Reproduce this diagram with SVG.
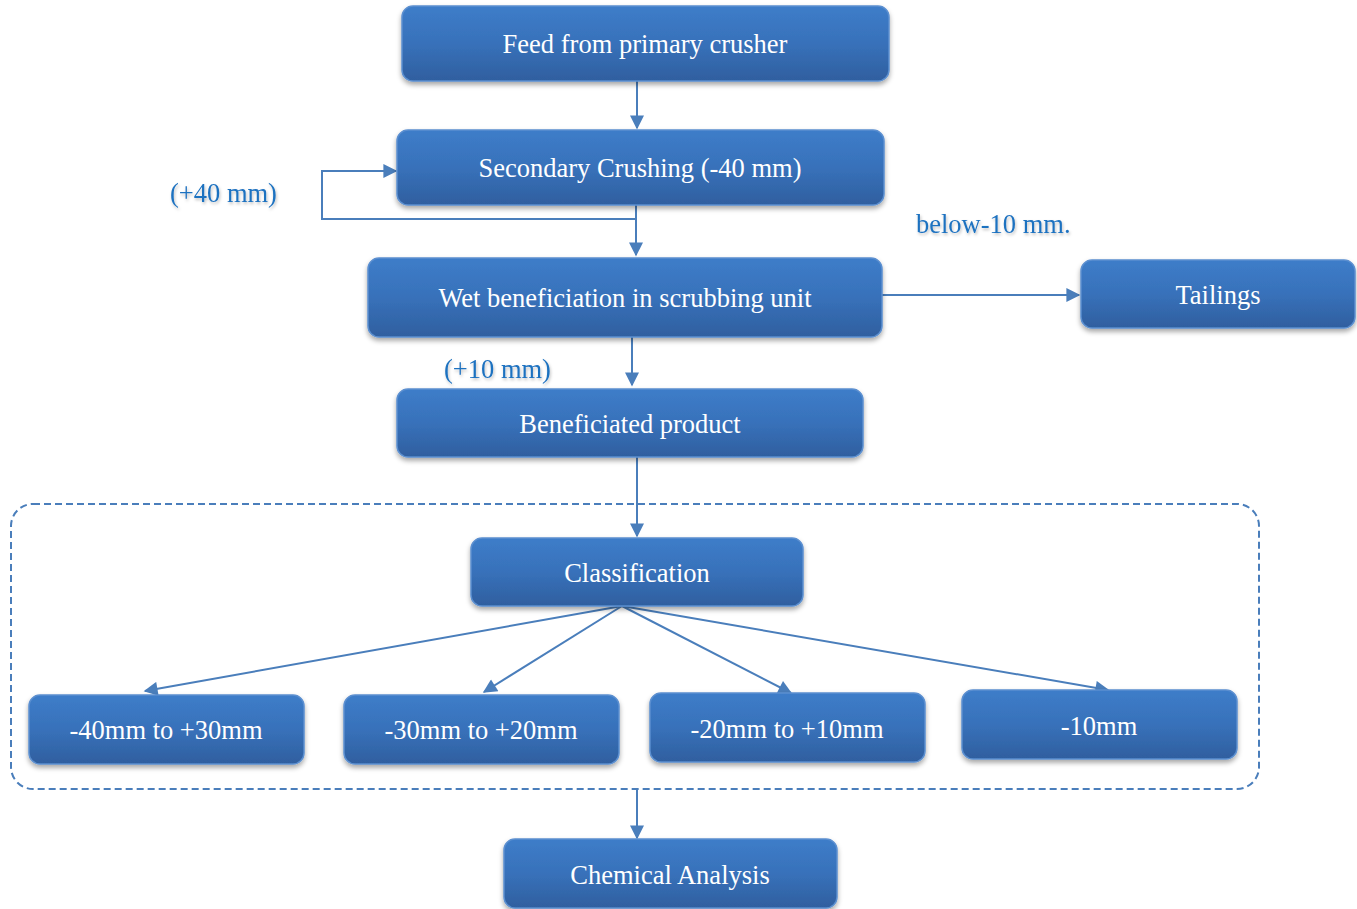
<svg xmlns="http://www.w3.org/2000/svg" width="1357" height="909" viewBox="0 0 1357 909">
<defs>
<linearGradient id="g" x1="0" y1="0" x2="0" y2="1">
<stop offset="0" stop-color="#3d7dc9"/>
<stop offset="0.5" stop-color="#3871ba"/>
<stop offset="1" stop-color="#2f5f9f"/>
</linearGradient>
<filter id="sh" x="-10%" y="-20%" width="120%" height="160%">
<feDropShadow dx="0" dy="3" stdDeviation="2.5" flood-color="#000" flood-opacity="0.35"/>
</filter>
<filter id="tsh" x="-10%" y="-30%" width="120%" height="160%">
<feDropShadow dx="1" dy="2" stdDeviation="1.5" flood-color="#000" flood-opacity="0.25"/>
</filter>
<marker id="ah" viewBox="0 0 10 10" refX="9" refY="5" markerWidth="8" markerHeight="7" orient="auto" markerUnits="strokeWidth">
<path d="M0,0 L10,5 L0,10 z" fill="#4a7ebb"/>
</marker>
</defs>
<style>
.box{fill:url(#g);stroke:#5b8fd0;stroke-width:1.5;filter:url(#sh)}
.t{font-family:"Liberation Serif","Times New Roman",serif;font-size:26.5px;fill:#fff;text-anchor:middle}
.lbl{font-family:"Liberation Serif","Times New Roman",serif;font-size:26.5px;fill:#1f72c0;filter:url(#tsh)}
.c{fill:none;stroke:#4a7ebb;stroke-width:2}
</style>
<rect x="11" y="504" width="1248" height="285" rx="22" fill="none" stroke="#4a7ebb" stroke-width="2" stroke-dasharray="7,4"/>
<g id="connectors">
<path class="c" d="M637,81 V128" marker-end="url(#ah)"/>
<path class="c" d="M636,205 V255" marker-end="url(#ah)"/>
<path class="c" d="M636,219 H322 V171 H396" marker-end="url(#ah)"/>
<path class="c" d="M882,295 H1079" marker-end="url(#ah)"/>
<path class="c" d="M632,337 V385" marker-end="url(#ah)"/>
<path class="c" d="M637,457 V536" marker-end="url(#ah)"/>
<path class="c" d="M622,606 L145,691" marker-end="url(#ah)"/>
<path class="c" d="M622,606 L484,692" marker-end="url(#ah)"/>
<path class="c" d="M622,606 L791,693" marker-end="url(#ah)"/>
<path class="c" d="M622,606 L1108,690" marker-end="url(#ah)"/>
<path class="c" d="M637,789 V838" marker-end="url(#ah)"/>
</g>
<g id="n-feed"><rect class="box" x="402" y="6" width="487" height="75" rx="11"/><text class="t" x="645" y="53">Feed from primary crusher</text></g>
<g id="n-secondary"><rect class="box" x="397" y="130" width="487" height="75" rx="11"/><text class="t" x="640" y="177">Secondary Crushing (-40 mm)</text></g>
<g id="n-wet"><rect class="box" x="368" y="258" width="514" height="79" rx="11"/><text class="t" x="625" y="307">Wet beneficiation in scrubbing unit</text></g>
<g id="n-tailings"><rect class="box" x="1081" y="260" width="274" height="68" rx="11"/><text class="t" x="1218" y="304">Tailings</text></g>
<g id="n-beneficiated"><rect class="box" x="397" y="389" width="466" height="68" rx="11"/><text class="t" x="630" y="433">Beneficiated product</text></g>
<g id="n-classification"><rect class="box" x="471" y="538" width="332" height="68" rx="11"/><text class="t" x="637" y="582">Classification</text></g>
<g id="n-c1"><rect class="box" x="29" y="695" width="275" height="69" rx="11"/><text class="t" x="166" y="739">-40mm to +30mm</text></g>
<g id="n-c2"><rect class="box" x="344" y="695" width="275" height="69" rx="11"/><text class="t" x="481" y="739">-30mm to +20mm</text></g>
<g id="n-c3"><rect class="box" x="650" y="693" width="275" height="69" rx="11"/><text class="t" x="787" y="738">-20mm to +10mm</text></g>
<g id="n-c4"><rect class="box" x="962" y="690" width="275" height="69" rx="11"/><text class="t" x="1099" y="735">-10mm</text></g>
<g id="n-chem"><rect class="box" x="504" y="839" width="333" height="69" rx="11"/><text class="t" x="670" y="884">Chemical Analysis</text></g>
<text class="lbl" x="170" y="202">(+40 mm)</text>
<text class="lbl" x="916" y="233">below-10 mm.</text>
<text class="lbl" x="444" y="378">(+10 mm)</text>
</svg>
